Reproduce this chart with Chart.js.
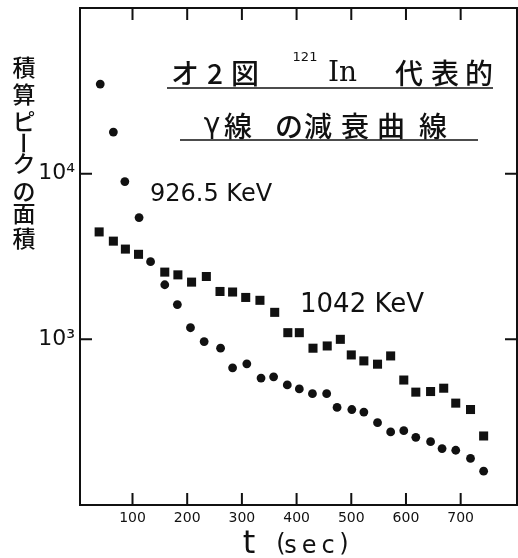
<!DOCTYPE html>
<html><head><meta charset="utf-8">
<script src="https://cdn.jsdelivr.net/npm/chart.js@4.4.0/dist/chart.umd.min.js"></script>
<style>html,body{margin:0;padding:0;background:#fff;} canvas{display:block;}</style>
</head><body>
<canvas id="c" width="518" height="558"></canvas>
<script>
// 926.5 keV (circles)
const time926 = [41,65,86,112,133,159,182,206,231,261,283,309,335,358,383,405,429,455,474,501,523,548,572,596,618,645,666,691,718,742];
const area926 = [34750,17830,8955,5430,2942,2135,1621,1175,969,884,673,711,584,594,531,502,470,470,388,377,364,314,276,281,256,241,219,214,191,160];
// 1042 keV (squares)
const time1042 = [39,65,87,111,159,183,208,235,260,283,307,333,360,384,405,430,456,480,500,523,548,572,596,618,645,669,691,718,742];
const area1042 = [4450,3915,3505,3260,2545,2450,2215,2395,1945,1930,1790,1720,1455,1097,1097,884,912,1000,805,741,708,794,568,480,484,507,412,377,261];
// ticks
const xTickValues = [100,200,300,400,500,600,700];
const yTickValues = [1000,10000];
const yTickLabels = ['10³','10⁴'];

const pts = (xs, ys) => xs.map((x,i)=>({x:x, y:ys[i]}));
const INK = '#111';
const JP = "'Noto Sans CJK JP', 'Noto Sans', sans-serif";

const decor = {
  id: 'decor',
  afterDraw(chart) {
    const ctx = chart.ctx, a = chart.chartArea;
    const xs = chart.scales.x, ys = chart.scales.y;
    ctx.save();
    ctx.strokeStyle = INK; ctx.fillStyle = INK; ctx.lineWidth = 2;
    ctx.strokeRect(a.left, a.top, a.right - a.left, a.bottom - a.top);
    // inward ticks
    ctx.beginPath();
    xTickValues.forEach(v => {
      const px = xs.getPixelForValue(v);
      ctx.moveTo(px, a.bottom); ctx.lineTo(px, a.bottom - 12);
      ctx.moveTo(px, a.top); ctx.lineTo(px, a.top + 12);
    });
    yTickValues.forEach(v => {
      const py = ys.getPixelForValue(v);
      ctx.moveTo(a.left, py); ctx.lineTo(a.left + 12, py);
      ctx.moveTo(a.right, py); ctx.lineTo(a.right - 12, py);
    });
    ctx.stroke();

    ctx.textAlign = 'center'; ctx.textBaseline = 'middle';
    const put = (s, x, y, font) => { ctx.font = font; ctx.fillText(s, x, y); };
    // title line 1
    const f1 = "500 28px " + JP;
    put('オ', 185, 73, f1); put('2', 215, 73, f1); put('図', 245, 73, f1);
    put('121', 305, 58, "500 13px 'DejaVu Sans'");
    ctx.textAlign = 'left'; put('In', 328, 74, "500 28px 'DejaVu Serif'"); ctx.textAlign = 'center';
    put('代', 409, 73, f1); put('表', 445, 73, f1); put('的', 479, 73, f1);
    ctx.lineWidth = 1.5;
    ctx.beginPath(); ctx.moveTo(167, 88); ctx.lineTo(493, 88); ctx.stroke();
    // title line 2
    put('γ', 212, 126, "500 28px 'DejaVu Sans'");
    [['線',238],['の',289],['減',318],['衰',355],['曲',391],['線',433]].forEach(([c,x]) => put(c, x, 126, f1));
    ctx.beginPath(); ctx.moveTo(180, 140); ctx.lineTo(478, 140); ctx.stroke();
    // series labels
    ctx.textAlign = 'left';
    put('926.5 KeV', 150, 195, "24px 'DejaVu Sans'");
    put('1042 KeV', 300, 305, "26px 'DejaVu Sans'");
    // x axis title
    ctx.textAlign = 'center';
    put('t', 249, 545, "32px 'DejaVu Sans'");
    put('(', 281, 545, "24px 'DejaVu Sans'");
    ctx.letterSpacing = '5px';
    put('sec', 312, 547, "24px 'DejaVu Sans'");
    ctx.letterSpacing = '0px';
    put(')', 344, 545, "24px 'DejaVu Sans'");
    // y axis title (vertical)
    const fy = "500 23px " + JP;
    [['積',67],['算',94],['ピ',121],['ク',163],['の',191],['面',213],['積',238]].forEach(([c,y]) => put(c, 24, y, fy));
    ctx.save(); ctx.translate(24, 143); ctx.rotate(Math.PI/2); put('ー', 0, 0, fy); ctx.restore();
    ctx.restore();
  }
};

new Chart(document.getElementById('c'), {
  type: 'scatter',
  data: {
    datasets: [
      { label: '926.5 keV', data: pts(time926, area926), pointStyle: 'circle', pointRadius: 4.4,
        backgroundColor: INK, borderColor: INK, borderWidth: 0, showLine: false },
      { label: '1042 keV', data: pts(time1042, area1042), pointStyle: 'rect', pointRadius: 6.4,
        backgroundColor: INK, borderColor: INK, borderWidth: 0, showLine: false }
    ]
  },
  options: {
    responsive: false, animation: false,
    layout: { autoPadding: false, padding: { top: 8, right: 1, left: 0, bottom: 0 } },
    plugins: { legend: { display: false }, tooltip: { enabled: false } },
    scales: {
      x: {
        type: 'linear', min: 4, max: 803,
        grid: { display: false, drawTicks: false, tickLength: 0 }, border: { display: false },
        afterBuildTicks: s => { s.ticks = xTickValues.map(v => ({ value: v })); },
        afterFit: s => { s.height = 53; s.paddingLeft = 0; s.paddingRight = 0; },
        ticks: { color: INK, padding: 5, font: { size: 14, family: 'DejaVu Sans' }, maxRotation: 0,
          callback: v => String(v) }
      },
      y: {
        type: 'logarithmic', min: 100, max: 100000,
        grid: { display: false, drawTicks: false, tickLength: 0 }, border: { display: false },
        afterBuildTicks: s => { s.ticks = yTickValues.map(v => ({ value: v })); },
        afterFit: s => { s.width = 80; s.paddingTop = 0; s.paddingBottom = 0; },
        ticks: { color: INK, padding: 5, font: { size: 22, family: 'DejaVu Sans' },
          callback: v => yTickLabels[yTickValues.indexOf(v)] ?? '' }
      }
    }
  },
  plugins: [decor]
});
</script>
</body></html>
